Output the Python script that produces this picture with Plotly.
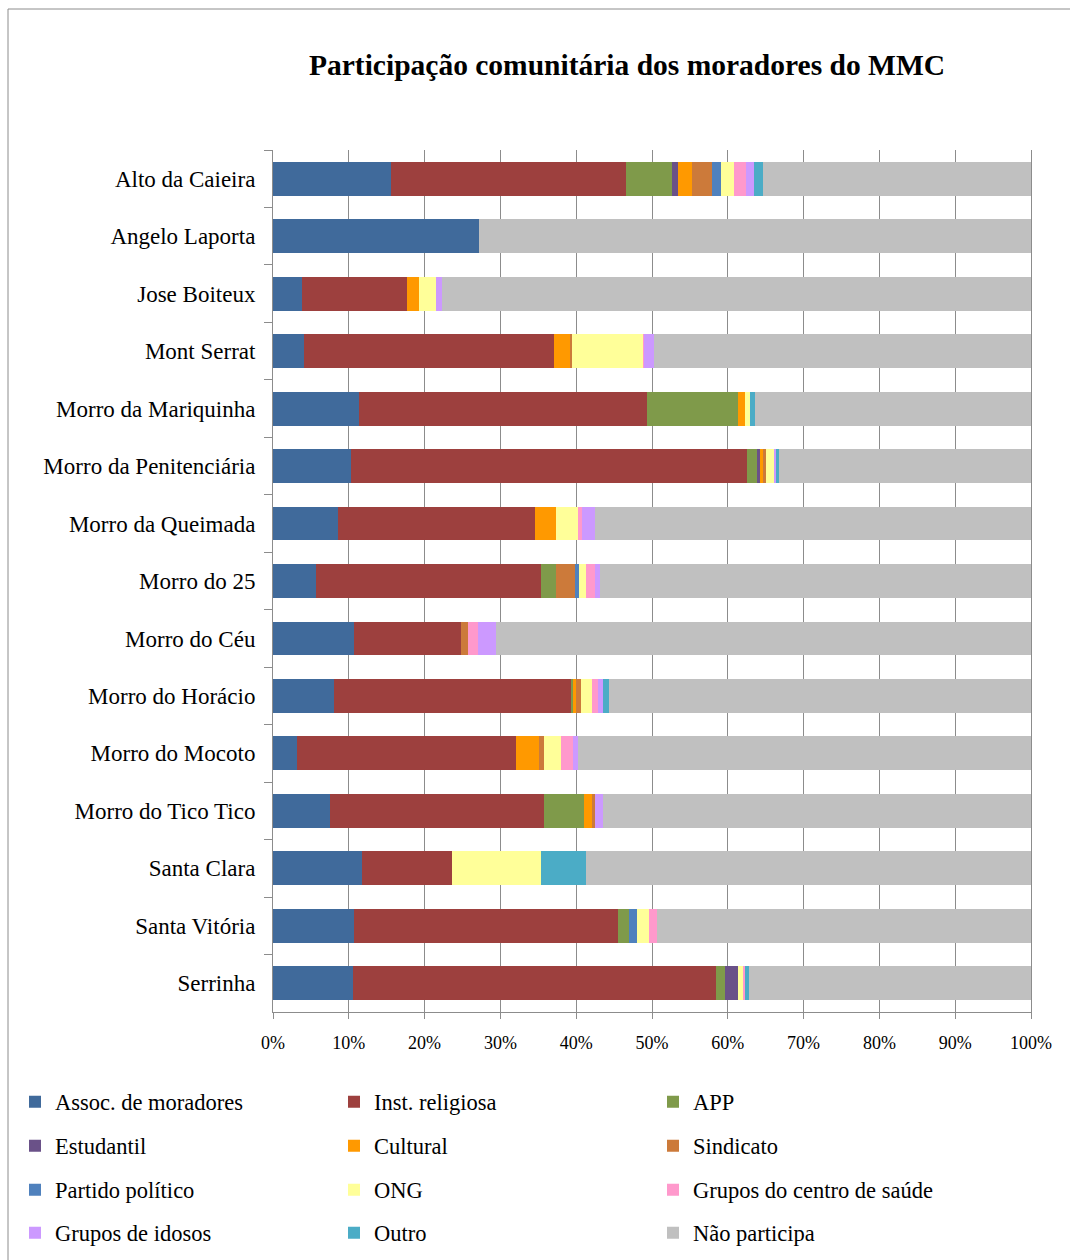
import plotly.graph_objects as go

categories = ["Alto da Caieira", "Angelo Laporta", "Jose Boiteux", "Mont Serrat",
              "Morro da Mariquinha", "Morro da Penitenciária", "Morro da Queimada",
              "Morro do 25", "Morro do Céu", "Morro do Horácio", "Morro do Mocoto",
              "Morro do Tico Tico", "Santa Clara", "Santa Vitória", "Serrinha"]

assoc_moradores = [15.6, 27.2, 3.8, 4.1, 11.4, 10.3, 8.6, 5.7, 10.7, 8.0, 3.1, 7.5, 11.7, 10.7, 10.6]
inst_religiosa = [31.0, 0, 13.9, 33.0, 37.9, 52.2, 26.0, 29.7, 14.1, 31.4, 29.0, 28.2, 11.9, 34.8, 47.9]
app = [6.0, 0, 0, 0, 12.1, 1.4, 0, 1.9, 0, 0.2, 0, 5.3, 0, 1.5, 1.1]
estudantil = [0.8, 0, 0, 0, 0, 0.4, 0, 0, 0, 0, 0, 0, 0, 0, 1.7]
cultural = [1.9, 0, 1.6, 2.1, 0.9, 0.3, 2.7, 0, 0, 0.4, 3.0, 1.1, 0, 0, 0]
sindicato = [2.6, 0, 0, 0.3, 0, 0.5, 0, 2.6, 0.9, 0.6, 0.6, 0.4, 0, 0, 0]
partido_politico = [1.2, 0, 0, 0, 0, 0, 0, 0.5, 0, 0, 0, 0, 0, 1.0, 0]
ong = [1.7, 0, 2.2, 9.4, 0.6, 1.0, 2.9, 0.9, 0, 1.5, 2.3, 0, 11.8, 1.6, 0.7]
grupos_saude = [1.6, 0, 0, 0.1, 0, 0, 0.5, 1.2, 1.4, 0.8, 1.6, 0, 0, 1.0, 0.3]
grupos_idosos = [1.1, 0, 0.8, 1.3, 0, 0.3, 1.8, 0.7, 2.3, 0.7, 0.6, 1.0, 0, 0, 0]
outro = [1.1, 0, 0, 0, 0.7, 0.3, 0, 0, 0, 0.7, 0, 0, 5.9, 0, 0.5]
nao_participa = [35.4, 72.8, 77.7, 49.7, 36.4, 33.3, 57.5, 56.8, 70.6, 55.7, 59.8, 56.5, 58.7, 49.4, 37.2]

series_names = ["Assoc. de moradores", "Inst. religiosa", "APP",
                "Estudantil", "Cultural", "Sindicato",
                "Partido político", "ONG", "Grupos do centro de saúde",
                "Grupos de idosos", "Outro", "Não participa"]
series_values = [assoc_moradores, inst_religiosa, app,
                 estudantil, cultural, sindicato,
                 partido_politico, ong, grupos_saude,
                 grupos_idosos, outro, nao_participa]
series_colors = ["#406A9B", "#9D403E", "#7F9A4A",
                 "#6A5188", "#FF9900", "#CC7A3A",
                 "#4F81BD", "#FFFF99", "#FF99CC",
                 "#CC99FF", "#4BACC6", "#C0C0C0"]

FONT = "Liberation Serif, Times New Roman, serif"
W, H = 1070, 1260
L, R, T, B = 273, 39, 150, 248
PW, PH = W - L - R, H - T - B

legend_ids = ["legend", "legend2", "legend3", "legend4"]

fig = go.Figure()
for i, (name, vals, col) in enumerate(zip(series_names, series_values, series_colors)):
    fig.add_trace(go.Bar(
        y=categories, x=vals, name=name, orientation="h",
        marker=dict(color=col, line=dict(width=0)),
        legend=legend_ids[i // 3],
    ))

def px_to_paper_x(px):
    return (px - L) / PW

def px_to_paper_y(py):
    return 1 - (py - T) / PH

row_y = [1102, 1146, 1190, 1233]
leg_common = dict(orientation="h", xref="paper", yref="paper", traceorder="normal",
                  x=px_to_paper_x(15), xanchor="left", yanchor="middle",
                  font=dict(family=FONT, size=22.5, color="black"),
                  entrywidth=274, entrywidthmode="pixels",
                  bgcolor="rgba(0,0,0,0)", borderwidth=0, tracegroupgap=0)

layout_legends = {}
for lid, ry in zip(legend_ids, row_y):
    layout_legends[lid] = dict(leg_common, y=px_to_paper_y(ry))

fig.update_layout(
    width=W, height=H,
    margin=dict(l=L, r=R, t=T, b=B, pad=0, autoexpand=False),
    barmode="stack", bargap=0.41,
    paper_bgcolor="white", plot_bgcolor="white",
    font=dict(family=FONT, color="black"),
    title=dict(text="Participação comunitária dos moradores do MMC",
               font=dict(family=FONT, size=29.5, color="black", weight="bold"),
               xref="paper", x=px_to_paper_x(627), xanchor="center",
               yref="container", y=1 - 65 / H, yanchor="middle"),
    showlegend=True,
    **layout_legends,
)

fig.update_xaxes(range=[0, 100], dtick=10, tick0=0, ticksuffix="%",
                 showgrid=True, gridcolor="#8C8C8C", gridwidth=1,
                 showline=True, linecolor="#8C8C8C", linewidth=1,
                 ticks="outside", ticklen=6, tickcolor="#8C8C8C",
                 ticklabelstandoff=8,
                 zeroline=False,
                 tickfont=dict(family=FONT, size=18, color="black"))
fig.update_yaxes(autorange="reversed", type="category",
                 showgrid=False, showline=True, linecolor="#8C8C8C", linewidth=1,
                 mirror=True,
                 ticks="outside", tickson="boundaries", ticklen=8, tickcolor="#8C8C8C",
                 ticklabelstandoff=12,
                 tickfont=dict(family=FONT, size=23, color="black"))

# outer chart border
fig.add_shape(type="rect", xref="paper", yref="paper",
              x0=px_to_paper_x(8), y0=px_to_paper_y(1300),
              x1=px_to_paper_x(1100), y1=px_to_paper_y(9),
              line=dict(color="#8C8C8C", width=1), fillcolor="rgba(0,0,0,0)",
              layer="above")

fig.write_html("out.html")
